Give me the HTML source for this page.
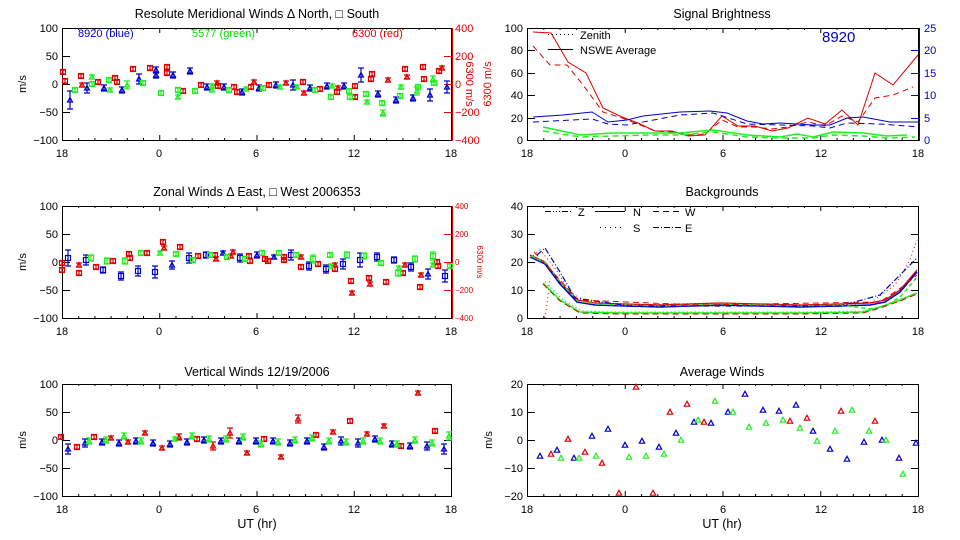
<!DOCTYPE html>
<html><head><meta charset="utf-8"><style>
html,body{margin:0;padding:0;background:#fff;}
svg{display:block;font-family:"Liberation Sans",sans-serif;}
text{font-size:11px;}
.t{font-size:12.5px;text-anchor:middle;}
.l{text-anchor:end;}
.c{text-anchor:middle;}
</style></head><body>
<svg id="s" width="960" height="540" viewBox="0 0 960 540" xmlns="http://www.w3.org/2000/svg">
<rect width="960" height="540" fill="#fff"/>
<g id="axes" fill="none" stroke="#000" stroke-width="1">
<rect x="62.5" y="28.5" width="389" height="112"/>
<rect x="62.5" y="206.5" width="389" height="112"/>
<rect x="62.5" y="384.5" width="389" height="112"/>
<rect x="527.5" y="28.5" width="391" height="112"/>
<rect x="527.5" y="206.5" width="391" height="112"/>
<rect x="527.5" y="384.5" width="391" height="112"/>
</g>
<g id="ticks" stroke="#000" stroke-width="1"></g>
<g id="data"></g>
<!-- titles -->
<g fill="#000">
<text class="t" x="257" y="18">Resolute Meridional Winds Δ North, □ South</text>
<text class="t" x="257" y="196">Zonal Winds Δ East, □ West 2006353</text>
<text class="t" x="257" y="376">Vertical Winds 12/19/2006</text>
<text class="t" x="722" y="18">Signal Brightness</text>
<text class="t" x="722" y="196">Backgrounds</text>
<text class="t" x="722" y="376">Average Winds</text>
<text class="t" x="257" y="528">UT (hr)</text>
<text class="t" x="722" y="528">UT (hr)</text>
<!-- m/s labels -->
<text transform="translate(26,84) rotate(-90)" class="c">m/s</text>
<text transform="translate(26,262) rotate(-90)" class="c">m/s</text>
<text transform="translate(26,440) rotate(-90)" class="c">m/s</text>
<text transform="translate(492,440) rotate(-90)" class="c">m/s</text>
<!-- left tick labels -->
<g class="l">
<text class="l" x="58" y="32">100</text><text class="l" x="58" y="60">50</text><text class="l" x="58" y="88">0</text><text class="l" x="58" y="116">−50</text><text class="l" x="58" y="144">−100</text>
<text class="l" x="58" y="210">100</text><text class="l" x="58" y="238">50</text><text class="l" x="58" y="266">0</text><text class="l" x="58" y="294">−50</text><text class="l" x="58" y="322">−100</text>
<text class="l" x="58" y="388">100</text><text class="l" x="58" y="416">50</text><text class="l" x="58" y="444">0</text><text class="l" x="58" y="472">−50</text><text class="l" x="58" y="500">−100</text>
<text class="l" x="523" y="32">100</text><text class="l" x="523" y="54">80</text><text class="l" x="523" y="77">60</text><text class="l" x="523" y="99">40</text><text class="l" x="523" y="122">20</text><text class="l" x="523" y="144">0</text>
<text class="l" x="523" y="210">40</text><text class="l" x="523" y="238">30</text><text class="l" x="523" y="266">20</text><text class="l" x="523" y="294">10</text><text class="l" x="523" y="322">0</text>
<text class="l" x="523" y="388">20</text><text class="l" x="523" y="416">10</text><text class="l" x="523" y="444">0</text><text class="l" x="523" y="472">−10</text><text class="l" x="523" y="500">−20</text>
</g>
<!-- x labels -->
<g class="c">
<text class="c" x="62" y="157">18</text><text class="c" x="159" y="157">0</text><text class="c" x="256" y="157">6</text><text class="c" x="354" y="157">12</text><text class="c" x="451" y="157">18</text>
<text class="c" x="62" y="335">18</text><text class="c" x="159" y="335">0</text><text class="c" x="256" y="335">6</text><text class="c" x="354" y="335">12</text><text class="c" x="451" y="335">18</text>
<text class="c" x="62" y="513">18</text><text class="c" x="159" y="513">0</text><text class="c" x="256" y="513">6</text><text class="c" x="354" y="513">12</text><text class="c" x="451" y="513">18</text>
<text class="c" x="527" y="157">18</text><text class="c" x="625" y="157">0</text><text class="c" x="723" y="157">6</text><text class="c" x="821" y="157">12</text><text class="c" x="918" y="157">18</text>
<text class="c" x="527" y="335">18</text><text class="c" x="625" y="335">0</text><text class="c" x="723" y="335">6</text><text class="c" x="821" y="335">12</text><text class="c" x="918" y="335">18</text>
<text class="c" x="527" y="513">18</text><text class="c" x="625" y="513">0</text><text class="c" x="723" y="513">6</text><text class="c" x="821" y="513">12</text><text class="c" x="918" y="513">18</text>
</g>
</g>
<!-- red right axes -->
<g fill="#e00000">
<text x="455" y="32">400</text><text x="455" y="60">200</text><text x="455" y="88">0</text><text x="455" y="116">−200</text><text x="455" y="144">−400</text>
<text transform="translate(466,84) rotate(90)" class="c">6300 m/s</text>
<g style="font-size:8px"><text style="font-size:8px" x="455" y="209">400</text><text style="font-size:8px" x="455" y="237">200</text><text style="font-size:8px" x="455" y="265">0</text><text style="font-size:8px" x="455" y="293">−200</text><text style="font-size:8px" x="455" y="321">−400</text></g>
<text transform="translate(477,262) rotate(90)" class="c" style="font-size:8px">6300 m/s</text>
<text transform="translate(491,84) rotate(-90)" class="c">6300 m/s</text>
<text x="352" y="37">6300 (red)</text>
</g>
<text x="78" y="37" fill="#0000cc">8920 (blue)</text>
<text x="192" y="37" fill="#00dd00">5577 (green)</text>
<g fill="#0000cc">
<text x="924" y="32">25</text><text x="924" y="54">20</text><text x="924" y="77">15</text><text x="924" y="99">10</text><text x="924" y="122">5</text><text x="924" y="144">0</text>
<text x="822" y="42" style="font-size:15px">8920</text>
</g>
<g fill="#000">
<text x="580" y="39">Zenith</text><text x="580" y="54">NSWE Average</text>
<text x="578" y="216">Z</text><text x="633" y="216">N</text><text x="685" y="216">W</text>
<text x="633" y="232">S</text><text x="685" y="232">E</text>
</g>
<g stroke="#000" fill="none">
<line x1="548" y1="34.5" x2="573" y2="34.5" stroke-dasharray="1,3"/>
<line x1="548" y1="49.5" x2="573" y2="49.5"/>
<line x1="545" y1="211.5" x2="572" y2="211.5" stroke-dasharray="6,2,1,2,1,2,1,2"/>
<line x1="595" y1="211.5" x2="625" y2="211.5"/>
<line x1="653" y1="211.5" x2="682" y2="211.5" stroke-dasharray="6,4"/>
<line x1="600" y1="227.5" x2="625" y2="227.5" stroke-dasharray="1,4"/>
<line x1="653" y1="227.5" x2="682" y2="227.5" stroke-dasharray="6,2,1,2"/>
</g>
</svg>
<script>
(function(){
var NS="http://www.w3.org/2000/svg";
function el(p,n,a){var e=document.createElementNS(NS,n);for(var k in a)e.setAttribute(k,a[k]);p.appendChild(e);return e;}
var T=document.getElementById('ticks'),D=document.getElementById('data');
function ln(x1,y1,x2,y2,c){el(T,'line',{x1:x1,y1:y1,x2:x2,y2:y2,stroke:c||'#000'});}
// x ticks
[[62,389,28,140],[62,389,206,318],[62,389,384,496],[527,391,28,140],[527,391,206,318],[527,391,384,496]].forEach(function(p){
 for(var h=0;h<=24;h++){var x=p[0]+p[1]*h/24+0.5;var L=(h%6==0)?5:2;ln(x,p[2],x,p[2]+L);ln(x,p[3],x,p[3]-L);}
});
function yt(x0,x1,ys,c1,c2){ys.forEach(function(y){y+=0.5;ln(x0,y,x0+8,y,c1);ln(x1,y,x1-8,y,c2);});}
yt(62,452,[56,84,112],'#000','#e00000');
yt(62,452,[234,262,290],'#000','#e00000');
yt(62,452,[412,440,468],'#000','#000');
yt(527,919,[50,73,95,118],'#000','#0000cc');
yt(527,919,[234,262,290],'#000','#000');
yt(527,919,[412,440,468],'#000','#000');
el(T,'line',{x1:452.5,y1:28,x2:452.5,y2:141,stroke:'#e00000'});
el(T,'line',{x1:452.5,y1:206,x2:452.5,y2:319,stroke:'#e00000'});
el(T,'line',{x1:919.5,y1:28,x2:919.5,y2:141,stroke:'#0000cc'});
var C={b:'#0000cc',r:'#e00000',g:'#22ee22'};
function tri(x,y,c,s){s=s||3;el(D,'path',{d:'M'+x+' '+(y-s)+'L'+(x+s)+' '+(y+s-0.5)+'L'+(x-s)+' '+(y+s-0.5)+'Z',fill:'none',stroke:c,'stroke-width':1.2});}
function sq(x,y,c){el(D,'rect',{x:x-2.5,y:y-2.5,width:5,height:5,fill:'none',stroke:c,'stroke-width':1.2});}
function eb(x,y,c,e){el(D,'path',{d:'M'+x+' '+(y-e)+'V'+(y+e)+'M'+(x-3)+' '+(y-e)+'H'+(x+3)+'M'+(x-3)+' '+(y+e)+'H'+(x+3),stroke:c,fill:'none','stroke-width':1.2});}
function pts(arr,c,kind){arr.forEach(function(p){var e=p[2]||3;eb(p[0],p[1],C[c],e);if(kind=='s'||(kind=='m'&&p[3]))sq(p[0],p[1],C[c]);else tri(p[0],p[1],C[c],2.5);});}
// meridional
pts([[70,100,9],[87,88,5],[104,88],[122,90],[139,79,5],[156,70],[156,75],[173,75],[190,71],[207,87],[224,87],[242,92],[259,88],[276,85],[293,85,5],[310,88],[327,86],[344,86],[361,75,7],[378,94],[396,100],[413,98],[430,95,6],[447,87,6]],'b','m');
pts([[63,72,2,1],[65,81,2,1],[81,76,2,1],[82,85,2],[98,82,2,1],[115,78,2,1],[117,82,2,1],[133,69,2,1],[150,68,2,1],[167,67,2,1],[167,73,2,1],[183,91,2,1],[201,85,2,1],[217,83,2],[218,86,2,1],[234,87,2,1],[237,92,2,1],[251,87,2,1],[254,82,2],[269,85,2,1],[286,83,2],[303,82,2,1],[304,93,2],[320,89,2,1],[337,92,2,1],[338,88,2],[355,97,2,1],[355,86,2,1],[372,74,2,1],[371,79,2,1],[388,80,2],[405,69,2,1],[407,77,2],[423,67,2,1],[424,79,2,1],[439,71,2,1],[442,68,2]],'r','m');
pts([[75,90,2,1],[92,77,2],[92,84,2,1],[109,80,2,1],[110,90,2],[127,85,4],[143,83,2,1],[161,93,2,1],[178,90,2,1],[178,97,2],[195,91,2,1],[212,86,2],[212,90,2],[229,90,2,1],[246,89,2],[263,88,2,1],[280,87,2],[297,87,2],[315,90,2,1],[331,97,2,1],[332,86,2],[349,91,2,1],[350,97,2,1],[366,94,2,1],[367,102,2],[382,103,2,1],[383,113,3],[400,96,2,1],[401,87,2],[417,91,4],[418,87,2,1],[433,79,3],[434,83,2,1]],'g','m');
// zonal
pts([[68,258,8,1],[86,260,5,1],[103,270,3,1],[121,276,4,1],[138,271,5,1],[155,272,6,1],[172,265,4],[189,258,5,1],[206,255,3,1],[223,253,2],[240,258,4,1],[257,255,3],[274,257,2],[291,255,5,1],[309,266,4,1],[326,269,4,1],[343,264,5,1],[360,260,7,1],[377,257,4,1],[394,260,3,1],[411,267,4,1],[428,274,5],[445,276,6,1]],'b','m');
pts([[62,263,2,1],[62,270,2,1],[79,273,2,1],[79,265,2],[96,267,2,1],[113,261,2,1],[129,254,2,1],[130,258,2,1],[147,253,2,1],[163,242,2,1],[164,248,2],[180,247,2,1],[198,256,2,1],[215,255,2,1],[216,259,2],[231,256,2],[233,252,2],[249,256,2,1],[250,261,2,1],[265,259,2,1],[268,261,2,1],[284,257,2,1],[284,260,2,1],[301,267,2,1],[301,257,2],[318,264,2,1],[335,265,2],[335,269,2,1],[351,281,2,1],[352,293,2],[369,278,2,1],[370,284,2],[386,282,2,1],[403,273,2,1],[405,265,2],[420,287,2,1],[421,275,2],[437,262,2,1],[438,266,2,1]],'r','m');
pts([[91,258,3,1],[107,261,3,1],[125,261,3,1],[141,253,2,1],[160,253,2],[176,254,2,1],[193,260,2,1],[210,255,2,1],[227,257,2,1],[245,259,2,1],[262,253,2,1],[279,253,2,1],[296,255,2,1],[313,259,4,1],[330,255,2,1],[331,266,2],[347,255,3,1],[364,256,3,1],[381,263,2,1],[398,273,3,1],[399,268,2],[415,259,3,1],[433,256,4,1],[433,265,2],[450,266,2,1]],'g','m');
// vertical
pts([[68,449,5],[85,443,4],[102,442],[119,443],[136,441],[153,443],[170,444],[187,442],[204,440],[221,441],[239,441],[256,441],[273,441],[290,443],[307,441],[324,447],[341,441,4],[358,443,4],[375,439],[392,444],[410,446],[427,446,4],[444,449,5]],'b','t');
pts([[61,437,2,1],[77,447,2,1],[94,437,2,1],[111,438,2],[128,442,2],[145,433,2],[162,448,2],[179,437,3],[197,439,2,1],[213,446,4],[230,433,5],[247,453,2],[264,439,2,1],[281,457,2],[298,419,4],[316,435,2,1],[333,432,2],[350,421,2,1],[367,434,2],[384,426,2],[401,446,2,1],[418,393,2],[435,431,2,1]],'r','m');
pts([[89,441],[106,440],[124,436],[141,441],[175,439,2,1],[192,436],[209,439],[226,439],[243,437],[261,444],[278,442],[295,440],[312,438],[329,441],[346,442],[363,441],[380,441],[397,444],[415,440],[432,443],[449,436,4]],'g','t');
// average winds
function av(arr,c){arr.forEach(function(p){tri(p[0],p[1],C[c],2.7);});}
av([[540,456],[557,450],[574,458],[592,436],[608,429],[625,445],[642,441],[659,447],[676,433],[694,422],[711,423],[728,412],[745,394],[763,410],[779,411],[796,405],[813,431],[830,449],[847,459],[864,442],[882,440],[899,458],[916,443]],'b');
av([[551,454],[568,439],[585,452],[602,463],[619,493],[636,387],[653,493],[670,412],[687,404],[704,422],[790,421],[807,418],[841,411],[875,421]],'r');
av([[561,458],[579,458],[596,456],[629,457],[646,456],[664,454],[681,440],[698,420],[715,401],[733,412],[749,427],[766,423],[783,420],[800,428],[817,441],[835,431],[852,410],[869,431],[886,440],[903,474]],'g');
// lines
function pl(pts,c,dash,w){var a={points:pts.map(function(p){return p.join(',')}).join(' '),fill:'none',stroke:c,'stroke-width':w||1};if(dash)a['stroke-dasharray']=dash;el(D,'polyline',a);}
var R='#e00000',B='#0000cc',G='#22ee22';
pl([[533,32],[551,33],[568,62],[586,73],[603,108],[622,117],[638,123],[655,131],[672,131],[688,136],[705,135],[722,116],[738,126],[755,126],[772,131],[788,128],[808,118],[825,124],[842,110],[858,125],[875,73],[893,85],[918,55]],R);
pl([[533,46],[550,65],[567,65],[583,85],[603,112],[622,118],[638,124],[655,131],[672,132],[688,135],[705,134],[722,120],[738,127],[755,127],[772,129],[788,127],[808,122],[825,126],[842,116],[858,122],[875,98],[893,95],[913,87]],R,'6,4');
pl([[533,117],[563,115],[592,112],[608,122],[627,120],[643,116],[680,112],[710,111],[727,113],[747,121],[763,124],[780,123],[813,125],[830,125],[847,118],[863,117],[890,122],[920,122]],B);
pl([[533,122],[592,119],[608,124],[627,125],[680,115],[713,113],[747,124],[780,125],[813,126],[830,128],[847,123],[880,124],[920,127]],B,'6,4');
pl([[543,127],[580,135],[613,133],[647,133],[680,133],[713,130],[747,135],[780,137],[797,134],[813,137],[833,132],[863,133],[887,136],[907,135]],G,null,1.5);
pl([[543,131],[580,137],[613,136],[647,135],[680,135],[713,132],[747,137],[780,138],[813,138],[833,135],[863,136],[887,138],[915,137]],G,'6,4',1.5);
// backgrounds
var top=[[530,255],[545,262],[560,282],[577,300],[595,303],[625,304],[660,305],[720,303],[760,304],[800,305],[840,304],[870,303],[885,300],[900,290],[917,270]];
pl(top,R,null,1.3);pl(top.map(function(p){return[p[0],p[1]+2]}),B,null,1.5);pl(top.map(function(p,i){return[p[0]+1,p[1]+(i>10?6:1)]}),G,'4,3',1.5);
pl([[530,258],[540,250],[555,268],[570,292],[585,301],[625,305],[720,303],[820,306],[870,303],[895,285],[910,260],[917,240]],R,'1,3');
pl([[537,255],[545,248],[560,272],[575,298],[630,306],[840,306],[880,295],[905,270],[917,258]],B,'6,2,1,2',1.2);
pl([[534,252],[560,280],[578,300],[700,305],[880,302],[905,285],[917,275]],R,'6,4');
var low=[[543,283],[560,300],[580,312],[620,313],[700,313],[800,313],[863,312],[880,307],[900,300],[917,293]];
pl(low,G,null,1.5);pl(low.map(function(p){return[p[0],p[1]+1]}),R,'6,4');pl(low.map(function(p){return[p[0]+2,p[1]-1]}),G,'1,3',1.5);
pl([[545,318],[548,296],[550,278]],R,'1,3');
})();
</script>
</body></html>
